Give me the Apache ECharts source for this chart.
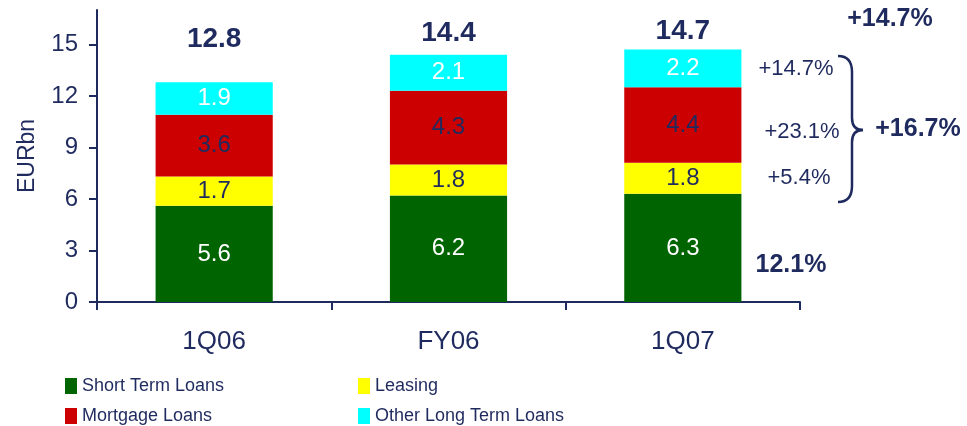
<!DOCTYPE html>
<html>
<head>
<meta charset="utf-8">
<script src="https://cdn.jsdelivr.net/npm/echarts@6/dist/echarts.min.js"></script>
<style>
  html, body { margin: 0; padding: 0; background: #ffffff; }
  #chart { width: 967px; height: 426px; }
</style>
</head>
<body>
<div id="chart"></div>
<script>
// Loan book by product, EUR billions
const periods = ['1Q06', 'FY06', '1Q07'];
const shortTermLoans = [5.6, 6.2, 6.3];
const leasing = [1.7, 1.8, 1.8];
const mortgageLoans = [3.6, 4.3, 4.4];
const otherLongTermLoans = [1.9, 2.1, 2.2];
const totals = [12.8, 14.4, 14.7];
const yTicks = [0, 3, 6, 9, 12, 15];

const NAVY = '#1f2a5e';
const FONT = "'Liberation Sans', Arial, sans-serif";

const chart = echarts.init(document.getElementById('chart'));

function segment(name, data, color, labelColor) {
  return {
    name: name,
    type: 'bar',
    stack: 'loans',
    data: data,
    barWidth: '50%',
    itemStyle: { color: color },
    label: {
      show: true,
      position: 'inside',
      color: labelColor,
      fontFamily: FONT,
      fontSize: 24,
      formatter: p => p.value.toFixed(1)
    },
    emphasis: { disabled: true }
  };
}

// one legend entry per slot, laid out as a two-column key
function legendEntry(name, left, top) {
  return {
    data: [name],
    left: left, top: top,
    itemWidth: 12, itemHeight: 16, itemGap: 0,
    icon: 'rect',
    selectedMode: false,
    textStyle: { fontFamily: FONT, fontSize: 18, color: NAVY, lineHeight: 18 }
  };
}

// curly brace grouping the long-term growth rates
const braceStyle = { fill: 'none', stroke: NAVY, lineWidth: 2.5 };
function curve(x1, y1, cx, cy, x2, y2) {
  return { type: 'bezierCurve', shape: { x1: x1, y1: y1, cpx1: cx, cpy1: cy, x2: x2, y2: y2 }, style: braceStyle };
}
function segLine(x1, y1, x2, y2) {
  return { type: 'line', shape: { x1: x1, y1: y1, x2: x2, y2: y2 }, style: braceStyle };
}

chart.setOption({
  animation: false,
  backgroundColor: '#ffffff',
  textStyle: { fontFamily: FONT, color: NAVY },
  grid: { left: 97, right: 167, top: 10, bottom: 124, outerBoundsMode: 'none' },
  legend: [
    legendEntry('Short Term Loans', 60, 372),
    legendEntry('Leasing', 353, 372),
    legendEntry('Mortgage Loans', 60, 402),
    legendEntry('Other Long Term Loans', 353, 402)
  ],
  xAxis: {
    type: 'category',
    data: periods,
    boundaryGap: true,
    axisLine: { show: true, lineStyle: { color: NAVY, width: 2 } },
    axisTick: { show: true, alignWithLabel: false, length: 8, lineStyle: { color: NAVY, width: 2 } },
    axisLabel: { color: NAVY, fontFamily: FONT, fontSize: 26, margin: 27 },
    splitLine: { show: false }
  },
  yAxis: {
    type: 'value',
    min: 0,
    max: 17,
    name: 'EURbn',
    nameLocation: 'middle',
    nameRotate: 90,
    nameGap: 58,
    nameTextStyle: { color: NAVY, fontFamily: FONT, fontSize: 23 },
    axisLine: { show: true, lineStyle: { color: NAVY, width: 2 } },
    axisTick: { show: true, length: 8, inside: false, customValues: yTicks, lineStyle: { color: NAVY, width: 2 } },
    axisLabel: { color: NAVY, fontFamily: FONT, fontSize: 24, margin: 19, customValues: yTicks },
    splitLine: { show: false }
  },
  series: [
    segment('Short Term Loans', shortTermLoans, '#006400', '#ffffff'),
    segment('Leasing', leasing, '#ffff00', NAVY),
    segment('Mortgage Loans', mortgageLoans, '#cc0000', NAVY),
    segment('Other Long Term Loans', otherLongTermLoans, '#00ffff', '#ffffff'),
    {
      // period totals written above each stack
      name: 'Total',
      type: 'scatter',
      symbolSize: 0,
      silent: true,
      itemStyle: { opacity: 1 },
      data: totals.map((v, i) => ({
        value: v,
        label: { offset: [[0, -20], [0, 2], [0, 5]][i] }
      })),
      label: {
        show: true,
        position: 'top',
        distance: 9,
        color: NAVY,
        fontFamily: FONT,
        fontSize: 28,
        fontWeight: 'bold',
        formatter: p => p.value.toFixed(1)
      }
    }
  ],
  graphic: [
    { type: 'text', x: 890, y: 19, style: { text: '+14.7%', fill: NAVY, font: "bold 25px " + FONT, align: 'center', verticalAlign: 'middle' } },
    { type: 'text', x: 796, y: 69, style: { text: '+14.7%', fill: NAVY, font: "22px " + FONT, align: 'center', verticalAlign: 'middle' } },
    { type: 'text', x: 802, y: 132, style: { text: '+23.1%', fill: NAVY, font: "22px " + FONT, align: 'center', verticalAlign: 'middle' } },
    { type: 'text', x: 799, y: 178, style: { text: '+5.4%', fill: NAVY, font: "22px " + FONT, align: 'center', verticalAlign: 'middle' } },
    { type: 'text', x: 918, y: 129, style: { text: '+16.7%', fill: NAVY, font: "bold 25px " + FONT, align: 'center', verticalAlign: 'middle' } },
    { type: 'text', x: 791, y: 265, style: { text: '12.1%', fill: NAVY, font: "bold 25px " + FONT, align: 'center', verticalAlign: 'middle' } },
    curve(838, 56, 852, 56, 852, 72),
    segLine(852, 72, 852, 118),
    curve(852, 118, 852, 130, 863, 130),
    curve(863, 130, 852, 130, 852, 142),
    segLine(852, 142, 852, 186),
    curve(852, 186, 852, 202, 838, 202)
  ]
});
</script>
</body>
</html>
